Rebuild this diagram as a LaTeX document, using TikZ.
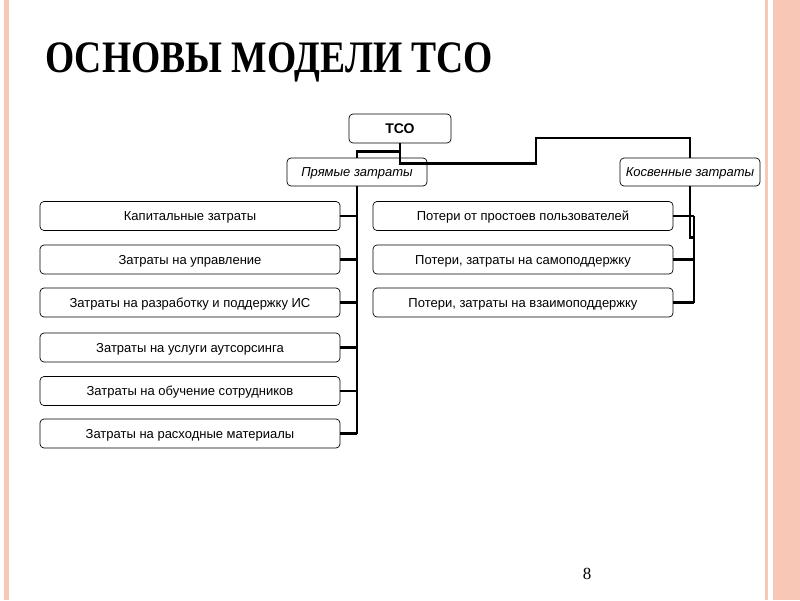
\documentclass[tikz,border=0pt]{standalone}
\usepackage{fontspec}
\setmainfont{Liberation Serif}
\setsansfont{Liberation Sans}
\usepackage{tikz}
\definecolor{stripe}{RGB}{249,199,182}

\begin{document}
\begin{tikzpicture}[x=1pt, y=-1pt,
		box_style/.style={rectangle,rounded corners=4pt,draw=black,line width=0.7pt,fill=white,inner sep=0pt,
			minimum width=300pt,minimum height=29pt,text height=10pt,text depth=1pt,
			font=\sffamily\fontsize{13}{13}\selectfont},
		head_style/.style={box_style,minimum width=140pt,minimum height=28pt,font=\sffamily\itshape\fontsize{13}{13}\selectfont},
		top_style/.style={box_style,minimum width=102pt,font=\sffamily\bfseries\fontsize{14}{14}\selectfont},
		edge_style/.style={draw=black,line width=2.5pt}]
		\useasboundingbox (0,0) rectangle (800,600);
		\fill[white] (0,0) rectangle (800,600);
		\fill[stripe] (4,0) rectangle (9,600);
		\fill[stripe] (765,0) rectangle (768,600);
		\fill[stripe] (773,0) rectangle (800,600);
		\node[anchor=base west,inner sep=0pt,font=\bfseries\fontsize{45}{45}\selectfont] (title) at (45,72) {\scalebox{0.835}[1]{ОСНОВЫ МОДЕЛИ ТСО}};
		\node[anchor=base,inner sep=0pt,font=\fontsize{17}{17}\selectfont] (page) at (587,579) {8};
		\node[top_style] (tco) at (400,128.5) {ТСО};
		\node[head_style] (pz) at (357,172) {Прямые затраты};
		\node[head_style] (kz) at (690,172) {Косвенные затраты};
		\node[box_style] (l1) at (190,216) {Капитальные затраты};
		\node[box_style] (l2) at (190,259.5) {Затраты на управление};
		\node[box_style] (l3) at (190,302.5) {Затраты на разработку и поддержку ИС};
		\node[box_style] (l4) at (190,347.5) {Затраты на услуги аутсорсинга};
		\node[box_style] (l5) at (190,391) {Затраты на обучение сотрудников};
		\node[box_style] (l6) at (190,433.5) {Затраты на расходные материалы};
		\node[box_style] (r1) at (523,216) {Потери от простоев пользователей};
		\node[box_style] (r2) at (523,259.5) {Потери, затраты на самоподдержку};
		\node[box_style] (r3) at (523,302.5) {Потери, затраты на взаимоподдержку};
		\coordinate (rtrunk) at (694,0);
		\draw[edge_style] (tco.south) -- ++(0,8) -| (pz.north);
		\draw[edge_style] (tco.south) -- ++(0,20) -| (536,138) -| (kz.north);
		\draw[edge_style] (pz.south) -- (pz.south |- l6.east);
		\foreach \i in {1,...,6}
			\draw[edge_style] (l\i.east) -- (l\i.east -| pz.south);
		\draw[edge_style] (kz.south) -- ++(0,51) -- ++(4,0);
		\foreach \i in {1,2,3}
			\draw[edge_style] (r\i.east) -- (r\i.east -| rtrunk);
		\draw[edge_style] (r1.east -| rtrunk) -- (r3.east -| rtrunk);
\end{tikzpicture}
\end{document}
